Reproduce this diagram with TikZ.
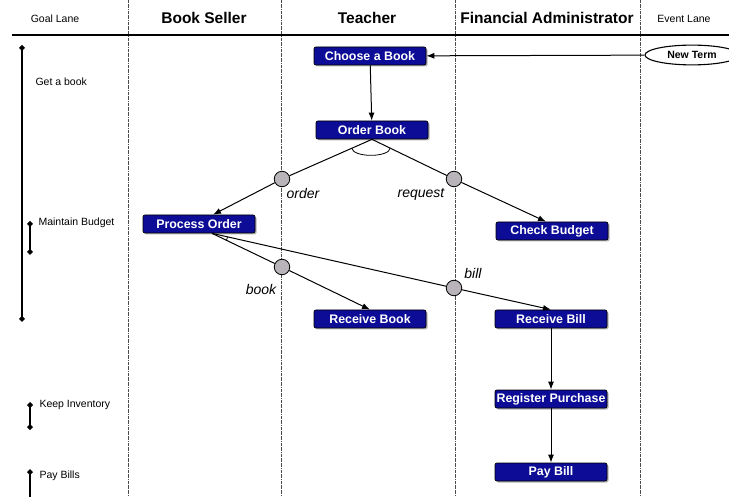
\documentclass[tikz,border=0pt]{standalone}
\usepackage{fontspec}
\setmainfont{Liberation Sans}
\usetikzlibrary{arrows.meta,shapes.geometric,shadows}

\definecolor{actblue}{RGB}{12,12,150}
\definecolor{juncgray}{RGB}{184,180,186}

\tikzset{
  lane/.style={densely dashdotted,black!70,line width=0.6pt},
  lanehead/.style={font=\bfseries\fontsize{15.5}{18}\selectfont},
  lanesmall/.style={font=\fontsize{10.5}{12}\selectfont},
  act/.style={rectangle,rounded corners=2pt,draw=black,line width=0.7pt,fill=actblue,text=white,
    font=\bfseries\fontsize{12.4}{14}\selectfont,minimum width=112pt,minimum height=18pt,
    inner sep=1pt,drop shadow={shadow xshift=1.5pt,shadow yshift=-1.5pt,fill=black!60}},
  junc/.style={circle,draw=black,line width=0.8pt,fill=juncgray,minimum size=15.5pt,inner sep=0pt},
  flowlabel/.style={font=\itshape\fontsize{14}{16}\selectfont},
  goaltext/.style={anchor=west,font=\fontsize{10.5}{12}\selectfont},
  flow/.style={-{Latex[length=8pt,width=6pt]},line width=1pt},
  goalbar/.style={{Diamond[length=6pt,width=6pt]}-{Diamond[length=6pt,width=6pt]},line width=1.2pt}
}

\begin{document}
\begin{tikzpicture}[x=1pt,y=1pt]
   \useasboundingbox (0,0) rectangle (729,-497);
   % lanes and heading
   \coordinate (hl) at (12,-35);
   \coordinate (hr) at (729,-35);
   \coordinate (s1t) at (128,0);
   \coordinate (s1b) at (128,-497);
   \coordinate (s2t) at (281,0);
   \coordinate (s2b) at (281,-497);
   \coordinate (s3t) at (455,0);
   \coordinate (s3b) at (455,-497);
   \coordinate (s4t) at (640,0);
   \coordinate (s4b) at (640,-497);
   \draw[lane] (s1t) -- (s1b);
   \draw[lane] (s2t) -- (s2b);
   \draw[lane] (s3t) -- (s3b);
   \draw[lane] (s4t) -- (s4b);
   \draw[line width=1.2pt] (hl) -- (hr);
   \node[lanesmall] (hgoal) at (55,-19) {Goal Lane};
   \node[lanehead] (hseller) at (204,-18) {Book Seller};
   \node[lanehead] (hteacher) at (367,-18) {Teacher};
   \node[lanehead] (hfinance) at (547,-18) {Financial Administrator};
   \node[lanesmall] (hevent) at (684,-19) {Event Lane};

   % activities
   \begin{scope}[every node/.style={act}]
    \node (choose) at (370,-56) {Choose a Book};
    \node (order) at (372,-130) {Order Book};
    \node (process) at (199,-224) {Process Order};
    \node (check) at (552,-231) {Check Budget};
    \node (recbook) at (370,-319) {Receive Book};
    \node (recbill) at (551,-319) {Receive Bill};
    \node (register) at (551,-399) {Register Purchase};
    \node (paybill) at (551,-472) {Pay Bill};
   \end{scope}
   \node[ellipse,draw=black,line width=1.1pt,minimum width=94pt,minimum height=19pt,
     font=\bfseries\fontsize{10.5}{12}\selectfont] (newterm) at (692,-55) {New Term};

   % junctions
   \begin{scope}[every node/.style={junc}]
    \node (jorder) at (282,-179) {};
    \node (jrequest) at (454,-179) {};
    \node (jbook) at (282,-267) {};
    \node (jbill) at (454,-288) {};
   \end{scope}
   \node[flowlabel] (lorder) at (303,-194) {order};
   \node[flowlabel] (lrequest) at (421,-194) {request};
   \node[flowlabel] (lbook) at (261,-289) {book};
   \node[flowlabel] (lbill) at (473,-273) {bill};

   % flows
   \draw[flow] (newterm) -- (choose);
   \draw[flow] (choose) -- (order);
   \draw[line width=1pt] (order.south) -- (jorder);
   \draw[flow] (jorder) -- ([xshift=14pt]process.north);
   \draw[line width=1pt] (order.south) -- (jrequest);
   \draw[flow] (jrequest) -- ([xshift=-6pt]check.north);
   \draw[line width=0.8pt] ([shift={(-20,-9)}]order.south) arc[start angle=180,end angle=360,x radius=19,y radius=7];
   \draw[line width=1pt] ([xshift=13pt]process.south) -- (jbook);
   \draw[flow] (jbook) -- (recbook.north);
   \draw[line width=1pt] ([xshift=13pt]process.south) -- (jbill);
   \draw[flow] (jbill) -- (recbill.north);
   \draw[line width=0.8pt] ([xshift=13pt]process.south) ++(-12.8:16) arc[start angle=-12.8,end angle=-25.9,radius=16];
   \draw[flow] (recbill) -- (register);
   \draw[flow] (register) -- (paybill);

   % goals
   \coordinate (g1t) at (22,-45);
   \coordinate (g1b) at (22,-322);
   \coordinate (g2t) at (30,-221);
   \coordinate (g2b) at (30,-255);
   \coordinate (g3t) at (30,-402);
   \coordinate (g3b) at (30,-430);
   \coordinate (g4t) at (30,-469);
   \coordinate (g4b) at (30,-502);
   \draw[goalbar] (g1t) -- (g1b);
   \draw[goalbar] (g2t) -- (g2b);
   \draw[goalbar] (g3t) -- (g3b);
   \draw[goalbar] (g4t) -- (g4b);
   \node[goaltext] (tget) at (32,-82) {Get a book};
   \node[goaltext] (tbudget) at (35,-223) {Maintain Budget};
   \node[goaltext] (tinventory) at (36,-405) {Keep Inventory};
   \node[goaltext] (tbills) at (36,-476) {Pay Bills};
\end{tikzpicture}
\end{document}
